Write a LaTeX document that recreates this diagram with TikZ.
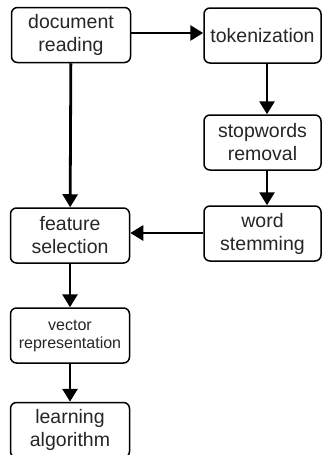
\documentclass[tikz,border=0pt]{standalone}
\usepackage{fontspec}
\setmainfont{Liberation Sans}
\usetikzlibrary{arrows.meta}
\begin{document}
\begin{tikzpicture}[x=1pt,y=-1pt,
  box/.style={draw=black,line width=1.5pt,rounded corners=6pt,fill=white,
    minimum width=119pt,minimum height=55pt,inner sep=0pt,align=center,
    text=black!85,font=\fontsize{19.5}{23}\selectfont},
  smallbox/.style={box,font=\fontsize{16}{18}\selectfont},
  arr/.style={line width=2.8pt,-{Triangle[length=13pt,width=15pt]}}]
\useasboundingbox (0,0) rectangle (323,455);
\node[box] (doc) at (71,35) {document\\reading};
\node[box,minimum width=117pt] (tok) at (262.5,35.5) {tokenization};
\node[box,minimum width=117pt] (stop) at (262.5,142.5) {stopwords\\removal};
\node[box,minimum width=117pt] (stem) at (262.5,233.5) {word\\stemming};
\node[box] (feat) at (70,235.5) {feature\\selection};
\node[smallbox] (vec) at (70,335.5) {vector\\representation};
\node[box] (learn) at (70,430) {learning\\algorithm};
\draw[arr] (doc.east |- 0,33) -- (tok.west |- 0,33);
\draw[arr] (tok.south -| 267,0) -- (stop.north -| 267,0);
\draw[arr] (stop.south -| 267,0) -- (stem.north -| 267,0);
\draw[arr] (doc) -- (feat);
\draw[arr] (stem.west |- 0,233) -- (feat.east |- 0,233);
\draw[arr] (feat) -- (vec);
\draw[arr] (vec) -- (learn);
\end{tikzpicture}
\end{document}
